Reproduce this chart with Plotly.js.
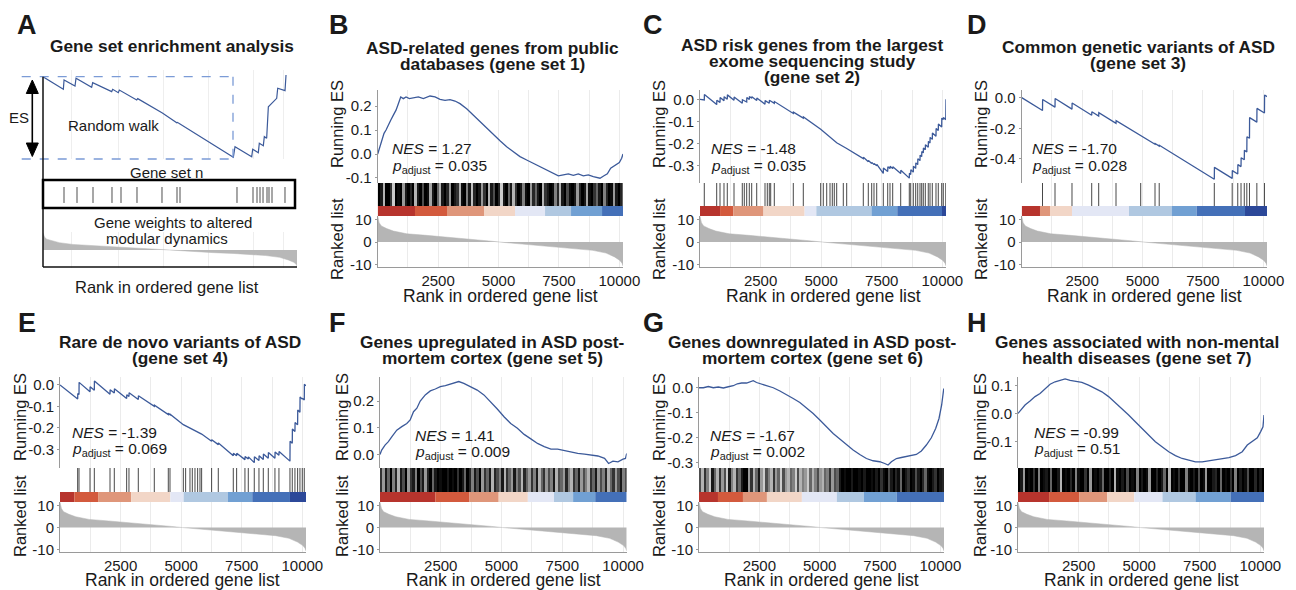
<!DOCTYPE html>
<html><head><meta charset="utf-8">
<script src="https://cdn.plot.ly/plotly-3.0.1.min.js"></script>
<style>html,body{margin:0;padding:0;background:#fff}#chart{width:1296px;height:590px}</style>
</head><body><div id="chart"></div>
<script>
// ================= DATA =================
const N_GENES = 10150;
const X_TICKS = [2500, 5000, 7500, 10000];
const X_TICK_LABELS = ['2500', '5000', '7500', '10000'];
const X_MINOR = [1250, 3750, 6250, 8750];
const RANK_TICKS = [-10, 0, 10];
const RANK_TICK_LABELS = ['-10', '0', '10'];

// shared ranked list (gene weights)
const RANKED_X = [0, 20, 60, 150, 370, 650, 1200, 2000, 2550, 3400, 4100, 4600, 5050, 5500, 5900, 6850, 7600, 8250, 8900, 9450, 9800, 10020, 10110, 10150];
const RANKED_Y = [11.5, 10.2, 8.6, 7.2, 6.0, 4.9, 3.7, 3.0, 2.5, 1.9, 1.0, 0.5, 0.0, -0.45, -0.9, -1.8, -2.3, -3.0, -3.7, -4.9, -6.6, -8.2, -9.4, -10.6];

const PANEL_KEYS = ['B', 'C', 'D', 'E', 'F', 'G', 'H'];
const NES_VALUES = ['1.27', '-1.48', '-1.70', '-1.39', '1.41', '-1.67', '-0.99'];
const P_ADJUST = ['0.035', '0.035', '0.028', '0.069', '0.009', '0.002', '0.51'];
const TITLE_A = 'Gene set enrichment analysis';
const TITLES = [
  ['ASD-related genes from public', 'databases (gene set 1)'],
  ['ASD risk genes from the largest', 'exome sequencing study', '(gene set 2)'],
  ['Common genetic variants of ASD', '(gene set 3)'],
  ['Rare de novo variants of ASD', '(gene set 4)'],
  ['Genes upregulated in ASD post-', 'mortem cortex (gene set 5)'],
  ['Genes downregulated in ASD post-', 'mortem cortex (gene set 6)'],
  ['Genes associated with non-mental', 'health diseases (gene set 7)']
];

// ES tick labels
const B_ES_TICKS = [-0.1, 0.0, 0.1, 0.2];       const B_ES_LABELS = ['-0.1', '0.0', '0.1', '0.2'];
const C_ES_TICKS = [-0.3, -0.2, -0.1, 0.0];     const C_ES_LABELS = ['-0.3', '-0.2', '-0.1', '0.0'];
const D_ES_TICKS = [-0.4, -0.2, 0.0];           const D_ES_LABELS = ['-0.4', '-0.2', '0.0'];
const E_ES_TICKS = [-0.3, -0.2, -0.1, 0.0];     const E_ES_LABELS = ['-0.3', '-0.2', '-0.1', '0.0'];
const F_ES_TICKS = [0.0, 0.1, 0.2];             const F_ES_LABELS = ['0.0', '0.1', '0.2'];
const G_ES_TICKS = [-0.3, -0.2, -0.1, 0.0];     const G_ES_LABELS = ['-0.3', '-0.2', '-0.1', '0.0'];
const H_ES_TICKS = [-0.1, 0.0, 0.1];            const H_ES_LABELS = ['-0.1', '0.0', '0.1'];

// Running enrichment score curves
const B_ES_X = [0, 69, 165, 262, 345, 441, 538, 648, 758, 855, 952, 1062, 1172, 1310, 1476, 1682, 1889, 2165, 2372, 2579, 2786, 2992, 3199, 3406, 3682, 3958, 4234, 4509, 4785, 5061, 5337, 5613, 5888, 6164, 6440, 6716, 6992, 7267, 7474, 7681, 7888, 8095, 8302, 8509, 8715, 8922, 9198, 9364, 9502, 9640, 9819, 9998, 10094, 10150];
const B_ES_Y = [0.0, 0.024, 0.051, 0.086, 0.100, 0.124, 0.141, 0.162, 0.183, 0.210, 0.238, 0.231, 0.238, 0.231, 0.235, 0.238, 0.231, 0.242, 0.238, 0.228, 0.224, 0.227, 0.221, 0.210, 0.189, 0.162, 0.134, 0.106, 0.079, 0.055, 0.030, 0.010, -0.011, -0.025, -0.039, -0.053, -0.066, -0.080, -0.091, -0.087, -0.083, -0.089, -0.083, -0.091, -0.087, -0.094, -0.101, -0.091, -0.083, -0.059, -0.046, -0.036, -0.018, 0.0];

const C_ES_X = [0, 177, 182, 689, 694, 825, 830, 990, 995, 1126, 1131, 1403, 1408, 1745, 1750, 1927, 1932, 2034, 2039, 2133, 2138, 2340, 2345, 2682, 2687, 2859, 2864, 3066, 3071, 3850, 3855, 4262, 4267, 4980, 5640, 5913, 6053, 6738, 6743, 6944, 6949, 7084, 7089, 7179, 7184, 7291, 7296, 7563, 7568, 7745, 7750, 7839, 7844, 7951, 7956, 8281, 8286, 8636, 8641, 8694, 8699, 8801, 8806, 8900, 8905, 8983, 8988, 9077, 9082, 9147, 9152, 9213, 9218, 9296, 9301, 9419, 9424, 9490, 9495, 9585, 9590, 9737, 9742, 9832, 9837, 9972, 9977, 10038, 10043, 10140, 10145, 10150];
const C_ES_Y = [0.0, -0.003, 0.022, -0.024, -0.004, -0.014, 0.008, -0.006, 0.012, 0.0, 0.020, -0.004, 0.010, -0.018, -0.002, -0.012, 0.008, -0.001, 0.013, 0.005, 0.012, -0.005, 0.006, -0.022, -0.006, -0.018, -0.004, -0.018, -0.010, -0.064, -0.058, -0.085, -0.080, -0.135, -0.196, -0.215, -0.222, -0.268, -0.262, -0.282, -0.276, -0.290, -0.285, -0.295, -0.290, -0.300, -0.294, -0.335, -0.310, -0.326, -0.305, -0.313, -0.302, -0.313, -0.305, -0.335, -0.320, -0.356, -0.334, -0.340, -0.318, -0.329, -0.302, -0.312, -0.287, -0.295, -0.268, -0.277, -0.252, -0.259, -0.236, -0.242, -0.220, -0.228, -0.205, -0.217, -0.190, -0.197, -0.172, -0.181, -0.152, -0.167, -0.132, -0.141, -0.112, -0.125, -0.085, -0.091, -0.082, -0.092, 0.0, 0.0];

const D_ES_X = [0, 861, 866, 1378, 1383, 2081, 2086, 2897, 2902, 3186, 3191, 3902, 3907, 4924, 4929, 5516, 5521, 5690, 5695, 7970, 7975, 8710, 8715, 8940, 8945, 9075, 9080, 9210, 9215, 9315, 9320, 9425, 9430, 9730, 9735, 10045, 10050, 10150];
const D_ES_Y = [0.0, -0.084, -0.012, -0.062, -0.005, -0.075, -0.035, -0.115, -0.092, -0.120, -0.098, -0.168, -0.150, -0.250, -0.246, -0.304, -0.299, -0.316, -0.311, -0.533, -0.455, -0.527, -0.476, -0.498, -0.437, -0.450, -0.392, -0.405, -0.344, -0.354, -0.255, -0.265, -0.130, -0.160, -0.070, -0.100, 0.017, 0.007];

const E_ES_X = [0, 729, 734, 784, 789, 1238, 1243, 1416, 1421, 2063, 2068, 2241, 2246, 2750, 2755, 2846, 2851, 3231, 3236, 3891, 3896, 4469, 4474, 4538, 4543, 5088, 5844, 6256, 6261, 6531, 6536, 7150, 7155, 7288, 7293, 7631, 7636, 7769, 7774, 8016, 8021, 8209, 8214, 8388, 8393, 8594, 8599, 8869, 8874, 9034, 9039, 9488, 9493, 9584, 9589, 9694, 9699, 9804, 9809, 9900, 9905, 9996, 10001, 10079, 10084, 10150];
const E_ES_Y = [0.0, -0.065, -0.040, -0.045, 0.012, -0.032, -0.008, -0.025, 0.018, -0.043, -0.022, -0.038, -0.018, -0.063, -0.046, -0.054, -0.036, -0.068, -0.050, -0.100, -0.094, -0.138, -0.134, -0.139, -0.136, -0.185, -0.229, -0.262, -0.255, -0.278, -0.270, -0.330, -0.318, -0.330, -0.318, -0.348, -0.333, -0.345, -0.335, -0.362, -0.335, -0.352, -0.330, -0.347, -0.322, -0.342, -0.315, -0.342, -0.312, -0.328, -0.310, -0.355, -0.262, -0.272, -0.205, -0.217, -0.175, -0.186, -0.117, -0.127, -0.056, -0.066, -0.062, -0.070, 0.003, -0.004];

const F_ES_X = [0, 69, 207, 345, 483, 690, 896, 1103, 1241, 1379, 1517, 1655, 1862, 2069, 2275, 2482, 2689, 2896, 3103, 3241, 3448, 3723, 3999, 4275, 4551, 4826, 5102, 5378, 5654, 5930, 6206, 6481, 6757, 7033, 7309, 7585, 7860, 8136, 8412, 8688, 8964, 9240, 9405, 9584, 9791, 9998, 10100, 10150];
const F_ES_Y = [0.0, 0.016, 0.035, 0.048, 0.066, 0.091, 0.104, 0.116, 0.129, 0.160, 0.173, 0.200, 0.223, 0.238, 0.245, 0.254, 0.258, 0.263, 0.270, 0.273, 0.266, 0.254, 0.241, 0.223, 0.198, 0.170, 0.141, 0.116, 0.098, 0.075, 0.058, 0.041, 0.029, 0.020, 0.020, 0.014, 0.010, 0.004, 0.001, -0.003, -0.006, -0.015, -0.034, -0.025, -0.028, -0.018, -0.015, 0.004];

const G_ES_X = [0, 179, 386, 593, 800, 1007, 1214, 1420, 1586, 1765, 1972, 2110, 2248, 2386, 2593, 2799, 3075, 3351, 3627, 3903, 4178, 4454, 4730, 5006, 5282, 5558, 5833, 6109, 6385, 6661, 6936, 7212, 7488, 7695, 7833, 7971, 8178, 8385, 8591, 8798, 9005, 9212, 9419, 9625, 9805, 9943, 10053, 10140];
const G_ES_Y = [0.0, 0.0, 0.005, 0.0, 0.003, -0.001, 0.004, 0.008, 0.016, 0.019, 0.019, 0.024, 0.028, 0.021, 0.015, 0.011, 0.0, -0.013, -0.027, -0.043, -0.059, -0.080, -0.103, -0.129, -0.156, -0.183, -0.205, -0.229, -0.249, -0.267, -0.283, -0.292, -0.296, -0.303, -0.309, -0.296, -0.283, -0.279, -0.276, -0.272, -0.267, -0.253, -0.229, -0.200, -0.163, -0.123, -0.069, -0.003];

const H_ES_X = [0, 152, 290, 496, 703, 910, 1117, 1324, 1531, 1738, 1944, 2151, 2358, 2634, 2910, 3186, 3461, 3737, 4013, 4289, 4564, 4840, 5116, 5392, 5668, 5943, 6219, 6495, 6771, 7047, 7323, 7599, 7874, 8150, 8426, 8702, 8978, 9253, 9460, 9667, 9874, 10012, 10108, 10150];
const H_ES_Y = [0.0, 0.018, 0.030, 0.044, 0.060, 0.071, 0.087, 0.104, 0.113, 0.118, 0.123, 0.118, 0.115, 0.111, 0.101, 0.089, 0.077, 0.060, 0.039, 0.018, -0.006, -0.030, -0.054, -0.077, -0.101, -0.119, -0.137, -0.151, -0.161, -0.167, -0.173, -0.173, -0.169, -0.167, -0.161, -0.158, -0.151, -0.137, -0.113, -0.101, -0.087, -0.065, -0.048, -0.006];

// gene set hit positions (sparse sets)
const C_HITS = [177, 689, 825, 990, 1126, 1403, 1745, 1828, 1927, 2034, 2133, 2340, 2682, 2777, 2859, 2917, 3066, 3850, 4262, 4980, 5087, 5228, 5364, 5459, 5541, 5640, 5913, 6053, 6738, 6944, 7084, 7179, 7291, 7563, 7745, 7839, 7951, 8281, 8636, 8694, 8801, 8900, 8983, 9077, 9147, 9213, 9296, 9419, 9490, 9585, 9737, 9832, 9972, 10038, 10140];
const D_HITS = [861, 1378, 2081, 2897, 3186, 3902, 4924, 5516, 5690, 7970, 8710, 8940, 9075, 9210, 9315, 9425, 9730, 10045];
const E_HITS = [729, 784, 1238, 1416, 2063, 2241, 2750, 2846, 3231, 3891, 4469, 4538, 5088, 5184, 5363, 5459, 5569, 5679, 5775, 5844, 6256, 6531, 7150, 7288, 7631, 7769, 8016, 8209, 8388, 8594, 8869, 9034, 9488, 9584, 9694, 9804, 9900, 9996, 10079];

// dense gene sets: darkness of the hit barcode in equal rank bins
const B_HIT_DENSITY = [1,0.9,0.3,1,1,0.8,0.2,1,0.95,1,0.4,0.9,1,0.85,1,0.3,0.9,1,0.7,1,0.95,0.35,0.9,1,0.6,0.3,0.9,1,0.85,0.4,1,0.9,0.8,0.3,0.95,1,0.5,0.9,0.25,0.85,1,0.9,0.4,0.8,1,0.3,0.9,0.7,1,0.85,0.2,0.9,1,0.6,0.9,0.3,0.8,1,0.9,0.5,0.95,1,0.4,0.85,0.6,0.9,1,0.3,0.8,0.9,1,0.95,0.5,0.85,0.3,0.9,1,0.7,0.95,1,0.9,0.4,0.85,1,0.9,0.35,0.95,1,0.8,0.6,0.9,1,0.5,0.85,1,0.95,0.4,0.9,1,0.85];
const F_HIT_DENSITY = [0.8,0.4,0.9,0.6,1,0.5,0.85,0.3,0.9,0.7,1,0.4,0.8,0.9,0.5,1,0.7,0.9,0.4,0.85,1,0.6,0.9,1,0.95,1,1,0.9,1,0.95,1,0.8,1,0.9,0.6,1,0.85,0.5,0.9,0.7,1,0.4,0.8,0.6,0.9,0.3,0.85,0.7,0.5,0.9,0.3,0.8,0.6,0.4,0.9,0.5,0.7,0.3,0.85,0.6,0.4,0.8,0.5,0.9,0.3,0.6,0.8,0.4,0.7,0.5,0.9,0.3,0.7,0.6,0.4,0.85,0.5,0.3,0.8,0.6,0.9,0.4,0.7,0.5,0.3,0.8,0.6,0.9,0.4,0.7,0.5,0.85,0.3,0.6,0.8,0.4,0.7,0.9,0.5,0.7];
const G_HIT_DENSITY = [0.7,0.3,0.8,0.5,0.2,0.9,0.6,0.3,0.8,0.4,0.7,0.2,0.9,0.5,0.3,0.8,0.6,0.9,1,1,0.4,0.8,0.3,0.6,0.9,0.4,0.2,0.7,0.5,0.3,0.8,0.4,0.6,0.2,0.7,0.4,0.3,0.6,0.5,0.2,0.7,0.3,0.5,0.4,0.2,0.6,0.3,0.5,0.7,0.4,0.3,0.6,0.5,0.8,0.4,0.7,0.6,0.9,1,0.95,1,1,0.9,1,1,0.95,1,0.9,1,1,0.95,1,0.9,1,0.8,0.95,1,0.7,0.9,1,0.85,0.95,0.6,1,0.9,0.8,1,0.95,0.7,0.9,1,0.85,0.6,0.95,1,0.9,0.8,1,0.9,0.85];
const H_HIT_DENSITY = [1,0.9,0.4,1,0.95,1,0.8,1,0.5,1,0.95,0.9,1,0.6,1,1,0.9,0.3,1,0.95,1,0.85,1,0.5,0.95,1,1,0.8,1,0.4,1,0.95,1,0.9,0.6,1,1,0.85,1,0.3,0.95,1,0.9,1,0.7,1,0.95,1,0.5,1,0.9,1,0.95,0.4,1,1,0.85,1,0.9,0.6,1,0.3,1,0.95,1,0.8,1,1,0.5,0.95,1,0.9,1,0.7,1,0.95,0.4,1,1,0.9,0.85,1,0.6,1,0.95,1,0.8,1,0.5,1,0.9,1,0.95,0.7,1,1,0.85,1,0.9,1];

// colour strip (rank bin edges + palette index)
const B_STRIP_EDGES = [0, 1543, 2868, 4399, 5682, 6924, 8000, 9283, 10150];           const B_STRIP_COLORS = [0,1,2,3,4,5,6,7];
const C_STRIP_EDGES = [0, 828, 1379, 2620, 4316, 4800, 7076, 8140, 9985, 10150];      const C_STRIP_COLORS = [0,1,2,3,4,5,6,7,8];
const D_STRIP_EDGES = [0, 757, 1171, 2082, 4440, 6207, 7241, 9240, 10150];            const D_STRIP_COLORS = [0,2,3,4,5,6,7,8];
const E_STRIP_EDGES = [0, 592, 1572, 2938, 4552, 5102, 6923, 7933, 9489, 10150];      const E_STRIP_COLORS = [0,1,2,3,4,5,6,7,8];
const F_STRIP_EDGES = [0, 2276, 3683, 4883, 6083, 7159, 7945, 8855, 10150];           const F_STRIP_COLORS = [0,1,2,3,4,5,6,7];
const G_STRIP_EDGES = [0, 786, 1821, 2814, 4262, 5711, 6828, 8193, 10150];            const G_STRIP_COLORS = [0,1,2,3,4,5,6,7];
const H_STRIP_EDGES = [0, 1283, 2524, 3683, 4800, 5959, 7324, 8773, 10150];           const H_STRIP_COLORS = [0,1,2,3,4,5,6,7];

// Panel A schematic
const A_WALK_X = [0, 813, 841, 1279, 1319, 1945, 1985, 2745, 2785, 3010, 3050, 3745, 3785, 4745, 4770, 5345, 5370, 5476, 7606, 7673, 8340, 8380, 8604, 8644, 8804, 8844, 8938, 9005, 9339, 9379, 9671, 9711];
const A_WALK_Y = [0, -0.153, -0.040, -0.113, -0.019, -0.129, -0.073, -0.182, -0.153, -0.194, -0.162, -0.283, -0.267, -0.445, -0.440, -0.559, -0.555, -0.575, -0.980, -0.850, -0.972, -0.882, -0.923, -0.809, -0.838, -0.729, -0.749, -0.365, -0.263, -0.141, -0.170, 0.021];
const A_HITS = [839, 1359, 1998, 2757, 3117, 3756, 4755, 5355, 5475, 7752, 8392, 8552, 8672, 8792, 8951, 9031, 9151, 9670];
const A_GRID = [1147, 3010, 4808, 6606, 8404, 9603];

// ================= STYLE / LAYOUT =================
const W = 1296, H = 590;
const px = v => v / W, py = v => 1 - v / H;
const FONT = 'Liberation Sans, Arial, Helvetica, sans-serif';
const ES_COLOR = '#3c5a9a';
const PALETTE = ['#b7342d', '#d35a3d', '#df967a', '#f2d6c7', '#e3e7f5', '#b0c8e1', '#71a0d3', '#4470b8', '#2c4899'];
const AXC = '#9a9a9a', GRIDC = '#ebebeb', TXT = '#1a1a1a';
const TICK_SIZE = 15;

const ROWS = [
  {esTop: 90, esBot: 183, cbTop: 206, bcBot: 216, rkBot: 267, xTitle: 296, runY: 124, rankY: 239},
  {esTop: 377, esBot: 468, cbTop: 492, bcBot: 502, rkBot: 552, xTitle: 580, runY: 417, rankY: 516}
];
const PANELS = [
  {row: 0, left: 377.7, right: 623,  range: [-0.121, 0.267], ylabX: 337, letter: [339, 25],  titleX: 492,  titleY: [48, 64],     nes: [390, 148, 166]},
  {row: 0, left: 700,   right: 946,  range: [-0.378, 0.042], ylabX: 659, letter: [653, 25],  titleX: 812,  titleY: [45, 61, 77], nes: [709, 148, 166]},
  {row: 0, left: 1021.7,right: 1267, range: [-0.557, 0.050], ylabX: 981, letter: [977, 25],  titleX: 1138, titleY: [47, 63],     nes: [1030, 148, 166]},
  {row: 1, left: 60,    right: 306,  range: [-0.387, 0.037], ylabX: 20,  letter: [27, 323],  titleX: 180,  titleY: [342, 358],   nes: [70, 432, 449]},
  {row: 1, left: 380,   right: 626.7,range: [-0.051, 0.290], ylabX: 342, letter: [337, 323], titleX: 492,  titleY: [342, 358],   nes: [413, 435, 452]},
  {row: 1, left: 699,   right: 944,  range: [-0.321, 0.043], ylabX: 659, letter: [653, 323], titleX: 812,  titleY: [342, 358],   nes: [708, 435, 452]},
  {row: 1, left: 1018,  right: 1264, range: [-0.195, 0.130], ylabX: 980, letter: [977, 323], titleX: 1137, titleY: [342, 358],   nes: [1032, 432, 449]}
];
const DATA = [
  {esX: B_ES_X, esY: B_ES_Y, ticks: B_ES_TICKS, labels: B_ES_LABELS, hits: null, dens: B_HIT_DENSITY, edges: B_STRIP_EDGES, cols: B_STRIP_COLORS},
  {esX: C_ES_X, esY: C_ES_Y, ticks: C_ES_TICKS, labels: C_ES_LABELS, hits: C_HITS, dens: null, edges: C_STRIP_EDGES, cols: C_STRIP_COLORS},
  {esX: D_ES_X, esY: D_ES_Y, ticks: D_ES_TICKS, labels: D_ES_LABELS, hits: D_HITS, dens: null, edges: D_STRIP_EDGES, cols: D_STRIP_COLORS},
  {esX: E_ES_X, esY: E_ES_Y, ticks: E_ES_TICKS, labels: E_ES_LABELS, hits: E_HITS, dens: null, edges: E_STRIP_EDGES, cols: E_STRIP_COLORS},
  {esX: F_ES_X, esY: F_ES_Y, ticks: F_ES_TICKS, labels: F_ES_LABELS, hits: null, dens: F_HIT_DENSITY, edges: F_STRIP_EDGES, cols: F_STRIP_COLORS},
  {esX: G_ES_X, esY: G_ES_Y, ticks: G_ES_TICKS, labels: G_ES_LABELS, hits: null, dens: G_HIT_DENSITY, edges: G_STRIP_EDGES, cols: G_STRIP_COLORS},
  {esX: H_ES_X, esY: H_ES_Y, ticks: H_ES_TICKS, labels: H_ES_LABELS, hits: null, dens: H_HIT_DENSITY, edges: H_STRIP_EDGES, cols: H_STRIP_COLORS}
];

const layout = {
  width: W, height: H, margin: {l: 0, r: 0, t: 0, b: 0},
  paper_bgcolor: '#fff', plot_bgcolor: 'rgba(0,0,0,0)', showlegend: false, barmode: 'overlay',
  font: {family: FONT, color: TXT}, annotations: [], shapes: []
};
const traces = [];
let nAx = 0;
function subplot(xd, yd, xo, yo) {
  nAx++; const s = nAx === 1 ? '' : String(nAx);
  const base = {fixedrange: true, zeroline: false, showgrid: false, showticklabels: false, ticks: '', showline: false};
  layout['xaxis' + s] = Object.assign({}, base, {domain: xd, anchor: 'y' + s}, xo || {});
  layout['yaxis' + s] = Object.assign({}, base, {domain: yd, anchor: 'x' + s}, yo || {});
  return {xaxis: 'x' + s, yaxis: 'y' + s};
}
function gridX(labels) {
  const o = {range: [0, N_GENES], tickmode: 'array', tickvals: X_TICKS, showgrid: true, gridcolor: GRIDC, gridwidth: 1,
    minor: {tickmode: 'array', tickvals: X_MINOR, showgrid: true, gridcolor: GRIDC, gridwidth: 1, ticks: ''}};
  if (labels) Object.assign(o, {ticktext: X_TICK_LABELS, showticklabels: true, ticks: '',
    showline: true, linecolor: AXC, linewidth: 1, tickfont: {size: TICK_SIZE, color: TXT, family: FONT}});
  return o;
}
function yAx(range, vals, text) {
  return {range: range, tickmode: 'array', tickvals: vals, ticktext: text, showticklabels: true, ticks: 'outside', ticklen: 2,
    tickcolor: AXC, showline: true, linecolor: AXC, linewidth: 1, tickfont: {size: TICK_SIZE, color: TXT, family: FONT}};
}
function ann(text, x, y, size, o) {
  layout.annotations.push(Object.assign({text: text, x: px(x), y: py(y), xref: 'paper', yref: 'paper', showarrow: false,
    xanchor: 'center', yanchor: 'middle', font: {size: size, family: FONT, color: TXT}}, o || {}));
}
function shp(o) { layout.shapes.push(Object.assign({xref: 'paper', yref: 'paper'}, o)); }
function line(x0, y0, x1, y1, color, width, dash) {
  shp({type: 'line', x0: px(x0), y0: py(y0), x1: px(x1), y1: py(y1), line: {color: color, width: width, dash: dash || 'solid'}});
}
function barcodeLines(hits, lo, hi, ax, color) {
  const xs = [], ys = [];
  hits.forEach(h => { xs.push(h, h, null); ys.push(lo, hi, null); });
  traces.push({type: 'scatter', mode: 'lines', x: xs, y: ys, line: {color: color, width: 1}, hoverinfo: 'skip',
    xaxis: ax.xaxis, yaxis: ax.yaxis});
}

// ---------- Panels B-H ----------
PANELS.forEach((P, i) => {
  const R = ROWS[P.row], D = DATA[i];
  const xd = [px(P.left), px(P.right)];
  const es = subplot(xd, [py(R.esBot), py(R.esTop)], gridX(false), yAx(P.range, D.ticks, D.labels));
  traces.push({type: 'scatter', mode: 'lines', x: D.esX, y: D.esY, line: {color: ES_COLOR, width: 1.3},
    hoverinfo: 'skip', xaxis: es.xaxis, yaxis: es.yaxis});

  const cbFrac = (R.bcBot - R.cbTop) / (R.bcBot - R.esBot);
  const bc = subplot(xd, [py(R.bcBot), py(R.esBot)], gridX(false), {range: [0, 1]});
  if (D.hits) {
    barcodeLines(D.hits, cbFrac, 1, bc, 'rgba(40,40,40,0.85)');
  } else {
    const dx = N_GENES / D.dens.length;
    traces.push({type: 'heatmap', z: [D.dens], x0: dx / 2, dx: dx, y0: (1 + cbFrac) / 2, dy: 1 - cbFrac,
      zmin: 0, zmax: 1, colorscale: [[0, '#ffffff'], [1, '#000000']], showscale: false, hoverinfo: 'skip',
      xaxis: bc.xaxis, yaxis: bc.yaxis});
  }
  const mids = [], widths = [];
  for (let j = 0; j < D.edges.length - 1; j++) { mids.push((D.edges[j] + D.edges[j + 1]) / 2); widths.push(D.edges[j + 1] - D.edges[j]); }
  traces.push({type: 'bar', x: mids, y: mids.map(() => cbFrac), base: 0, width: widths,
    marker: {color: D.cols.map(c => PALETTE[c]), line: {width: 0}}, hoverinfo: 'skip', xaxis: bc.xaxis, yaxis: bc.yaxis});

  const rk = subplot(xd, [py(R.rkBot), py(R.bcBot)], gridX(true), yAx([-11.1, 11.6], RANK_TICKS, RANK_TICK_LABELS));
  traces.push({type: 'scatter', mode: 'lines', x: RANKED_X, y: RANKED_Y, fill: 'tozeroy', fillcolor: '#b5b5b5',
    line: {color: '#b5b5b5', width: 0.5}, hoverinfo: 'skip', xaxis: rk.xaxis, yaxis: rk.yaxis});

  // texts
  ann('<b>' + PANEL_KEYS[i] + '</b>', P.letter[0], P.letter[1], 27);
  TITLES[i].forEach((t, k) => ann('<b>' + t + '</b>', P.titleX, P.titleY[k], 17.3));
  ann('Running ES', P.ylabX, R.runY, 16.5, {textangle: -90});
  ann('Ranked list', P.ylabX, R.rankY, 16.5, {textangle: -90});
  ann('Rank in ordered gene list', (P.left + P.right) / 2, R.xTitle, 17.5);
  ann('<i>NES</i> = ' + NES_VALUES[i], P.nes[0], P.nes[1], 15.5, {xanchor: 'left'});
  ann('<i>p</i><sub>adjust</sub> = ' + P_ADJUST[i], P.nes[0], P.nes[2], 15.5, {xanchor: 'left'});
});

// ---------- Panel A (schematic) ----------
const aX = [px(43), px(297)];
const aw = subplot(aX, [py(159), py(70)], {range: [0, N_GENES], tickmode: 'array', tickvals: A_GRID, showgrid: true, gridcolor: '#eeeeee'}, {range: [-1, 0.081]});
traces.push({type: 'scatter', mode: 'lines', x: A_WALK_X, y: A_WALK_Y, line: {color: ES_COLOR, width: 1.2}, hoverinfo: 'skip', xaxis: aw.xaxis, yaxis: aw.yaxis});
const ab = subplot(aX, [py(208), py(180)], {range: [0, N_GENES]}, {range: [0, 1]});
barcodeLines(A_HITS, 0.18, 0.75, ab, 'rgba(60,60,60,0.9)');
const aa = subplot(aX, [py(268), py(232)], {range: [0, N_GENES], tickmode: 'array', tickvals: A_GRID, showgrid: true, gridcolor: '#eeeeee'}, {range: [-12, 12]});
traces.push({type: 'scatter', mode: 'lines', x: RANKED_X, y: RANKED_Y, fill: 'tozeroy', fillcolor: '#b8b8b8',
  line: {color: '#b8b8b8', width: 0.5}, hoverinfo: 'skip', xaxis: aa.xaxis, yaxis: aa.yaxis});

// dashed ES box
line(21.7, 76.7, 233, 76.7, '#7b9bd6', 1.3, 'dash');
line(21.7, 159, 233, 159, '#7b9bd6', 1.3, 'dash');
line(233, 76.7, 233, 159, '#7b9bd6', 1.3, 'dash');
// axes of schematic
line(43, 76.7, 43, 267, '#111', 1.5);
line(43, 267, 297, 267, '#111', 1.5);
// gene set box
shp({type: 'rect', x0: px(43), x1: px(295), y0: py(208), y1: py(180), line: {color: '#000', width: 2.5}});
// ES double arrow
line(32.3, 92, 32.3, 144, '#000', 1.6);
function tri(ax, ay, by) {
  shp({type: 'path', path: 'M ' + px(ax) + ',' + py(ay) + ' L ' + px(ax - 6) + ',' + py(by) + ' L ' + px(ax + 6) + ',' + py(by) + ' Z',
    fillcolor: '#000', line: {color: '#000', width: 1}});
}
tri(32.3, 80, 93.5);
tri(32.3, 156.5, 143);

ann('<b>A</b>', 26.7, 25, 27);
ann('<b>' + TITLE_A + '</b>', 172, 46, 17.3);
ann('ES', 18.5, 118, 15);
ann('Random walk', 113, 125, 15);
ann('Gene set n', 166, 172, 15);
ann('Gene weights to altered', 173, 223, 15);
ann('modular dynamics', 167, 238, 15);
ann('Rank in ordered gene list', 167, 287, 16.5);

Plotly.newPlot('chart', traces, layout, {staticPlot: true, displayModeBar: false});
</script>
</body></html>
